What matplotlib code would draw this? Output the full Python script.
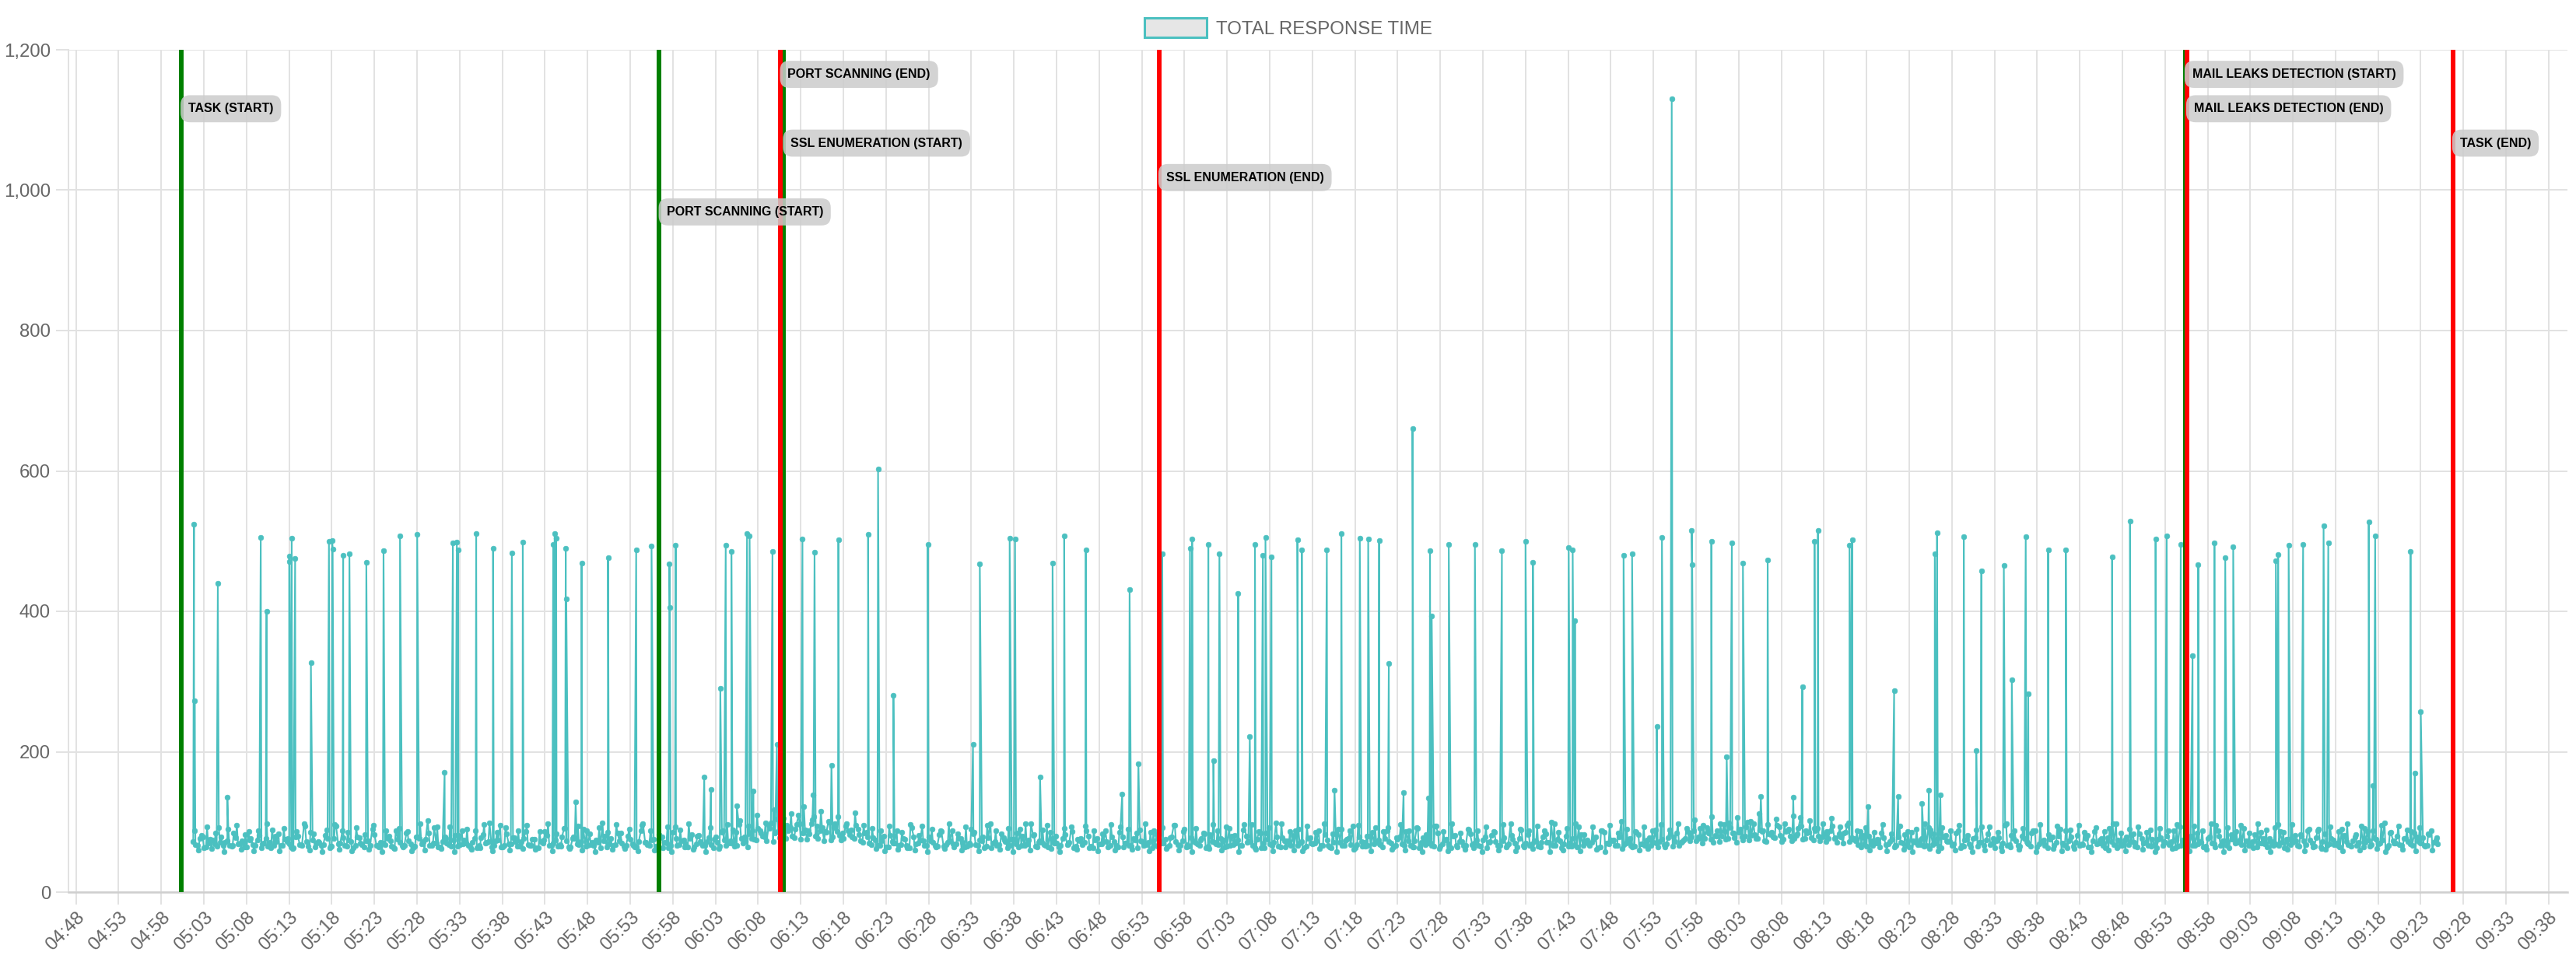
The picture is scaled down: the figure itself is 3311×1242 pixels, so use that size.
import matplotlib
matplotlib.use("Agg")
import matplotlib.pyplot as plt
import matplotlib.dates as mdates
from matplotlib.patches import Patch
from matplotlib.ticker import FuncFormatter
from datetime import datetime, timedelta
import numpy as np

# ---------------- data ----------------
SERIES_NAME = "TOTAL RESPONSE TIME"

# baseline samples, three interleaved runs (each every 30 s, offset from one another)
BASE_A_START = "05:01:45"
BASE_B_START = "05:02:00"
BASE_C_START = "05:01:52"
BASE_STEP_S = 30
baseline_a = [
    72, 66, 81, 64, 75, 69, 92, 67, 73, 65, 78, 70, 64, 86, 68, 74, 63, 77, 71, 66,
    83, 67, 72, 64, 79, 68, 97, 65, 74, 70, 66, 81, 63, 76, 69, 88, 65, 72, 67, 78,
    64, 73, 90, 66, 71, 68, 80, 63, 75, 67, 84, 69, 65, 77, 72, 102, 66, 70, 64, 79,
    68, 74, 65, 87, 70, 63, 76, 67, 82, 71, 64, 73, 95, 66, 69, 78, 65, 72, 86, 67,
    75, 63, 70, 81, 66, 74, 68, 91, 64, 77, 69, 72, 65, 83, 67, 71, 99, 64, 76, 68,
    73, 65, 80, 69, 64, 88, 71, 67, 75, 63, 79, 70, 66, 93, 68, 74, 64, 82, 69, 72,
    66, 78, 63, 71, 85, 67, 73, 65, 96, 70, 64, 77, 74, 88, 79, 95, 72, 104, 81, 76,
    92, 78, 110, 84, 75, 98, 80, 88, 73, 101, 79, 86, 74, 94, 82, 77, 90, 71, 85, 68,
    74, 66, 80, 64, 72, 87, 68, 75, 63, 79, 70, 94, 66, 73, 67, 82, 65, 71, 88, 69,
    76, 64, 70, 83, 67, 73, 65, 98, 72, 68, 78, 63, 75, 69, 90, 66, 74, 81, 64, 71,
    67, 85, 70, 64, 77, 68, 93, 65, 73, 71, 80, 63, 76, 69, 87, 66, 72, 64, 79, 70,
    65, 74, 89, 67, 71, 63, 82, 70, 75, 66, 95, 68, 73, 64, 78, 71, 67, 84, 65, 72,
    69, 77, 64, 91, 68, 74, 66, 80, 72, 63, 86, 70, 75, 67, 99, 64, 73, 69, 81, 66,
    72, 65, 78, 70, 88, 67, 74, 63, 83, 71, 66, 76, 94, 68, 72, 65, 80, 69, 74, 64,
    87, 70, 66, 79, 67, 73, 64, 92, 71, 68, 77, 65, 84, 69, 75, 63, 81, 72, 66, 90,
    68, 74, 65, 79, 71, 86, 67, 73, 64, 97, 70, 76, 66, 82, 69, 72, 64, 88, 71, 67,
    75, 63, 80, 70, 68, 93, 66, 74, 71, 79, 64, 85, 69, 73, 67, 101, 70, 76, 65, 82,
    69, 74, 66, 89, 72, 68, 78, 65, 84, 71, 76, 73, 88, 79, 70, 92, 75, 81, 72, 96,
    77, 84, 71, 90, 80, 74, 98, 76, 86, 72, 82, 78, 93, 75, 87, 73, 81, 106, 77, 85,
    74, 91, 79, 72, 88, 76, 83, 70, 95, 78, 73, 86, 69, 80, 66, 75, 84, 68, 72, 64,
    79, 70, 67, 85, 71, 74, 65, 92, 68, 77, 63, 81, 72, 69, 88, 66, 75, 64, 78, 71,
    66, 83, 70, 73, 64, 95, 68, 76, 67, 80, 72, 65, 87, 69, 74, 63, 79, 71, 90, 67,
    73, 65, 81, 69, 76, 64, 86, 70, 67, 78, 72, 98, 66, 74, 68, 83, 64, 77, 71, 89,
    68, 75, 66, 80, 72, 63, 93, 70, 76, 67, 84, 71, 65, 79, 69, 88, 73, 66, 82, 70,
    74, 91, 67, 72, 64, 85, 69, 77, 66, 96, 71, 75, 68, 81, 65, 73, 87, 70, 78, 64,
    83, 69, 74, 66, 90, 72, 67, 79, 71, 64, 86, 68, 75, 70, 99, 66, 73, 80, 67, 76,
    69, 84, 72, 78, 66, 88, 74,
]
baseline_b = [
    68, 77, 63, 70, 74, 65, 79, 71, 66, 84, 69, 73, 64, 76, 67, 81, 70, 65, 89, 72,
    66, 75, 69, 63, 80, 67, 72, 85, 64, 71, 68, 77, 65, 94, 70, 66, 74, 63, 79, 68,
    73, 67, 82, 64, 70, 76, 65, 88, 71, 66, 73, 63, 79, 69, 75, 67, 92, 64, 72, 70,
    65, 81, 68, 74, 66, 71, 63, 78, 70, 99, 67, 74, 64, 83, 69, 72, 65, 77, 68, 75,
    63, 72, 86, 67, 70, 65, 79, 73, 64, 76, 68, 90, 66, 71, 74, 63, 80, 69, 67, 84,
    70, 66, 75, 64, 72, 97, 68, 74, 65, 78, 71, 63, 85, 67, 73, 69, 76, 64, 81, 66,
    72, 68, 79, 65, 74, 70, 89, 66, 77, 72, 83, 75, 91, 80, 73, 99, 84, 78, 105, 87,
    80, 96, 75, 89, 83, 107, 77, 92, 85, 74, 98, 81, 76, 88, 79, 95, 73, 84, 70, 78,
    66, 73, 64, 81, 70, 67, 76, 63, 92, 69, 74, 66, 79, 71, 65, 86, 68, 73, 64, 77,
    71, 65, 90, 68, 74, 63, 78, 70, 66, 83, 72, 67, 75, 64, 80, 69, 97, 65, 73, 68,
    64, 77, 70, 66, 82, 71, 63, 75, 68, 88, 65, 74, 69, 72, 64, 79, 67, 93, 70, 66,
    76, 63, 72, 68, 85, 66, 74, 70, 64, 79, 72, 67, 90, 65, 73, 69, 77, 63, 82, 71,
    68, 74, 65, 80, 70, 66, 96, 72, 67, 75, 63, 84, 69, 71, 65, 78, 73, 66, 88, 70,
    63, 76, 69, 73, 66, 82, 64, 71, 90, 67, 75, 68, 63, 79, 71, 66, 85, 72, 68, 77,
    72, 64, 75, 69, 86, 66, 73, 63, 78, 70, 67, 94, 65, 74, 69, 80, 64, 72, 67, 83,
    70, 67, 74, 63, 81, 72, 66, 78, 69, 75, 64, 89, 70, 67, 73, 65, 79, 71, 100, 66,
    73, 69, 65, 77, 64, 82, 71, 67, 75, 63, 88, 70, 74, 66, 79, 68, 72, 64, 85, 69,
    66, 78, 71, 64, 75, 69, 83, 72, 67, 74, 86, 79, 73, 91, 77, 84, 71, 88, 80, 75,
    92, 78, 85, 74, 100, 81, 76, 89, 73, 83, 79, 95, 72, 86, 80, 77, 91, 75, 84, 78,
    88, 73, 82, 77, 94, 71, 79, 85, 72, 76, 68, 81, 65, 73, 70, 64, 78, 69, 75, 67,
    71, 82, 64, 73, 68, 76, 66, 89, 70, 65, 79, 72, 67, 84, 63, 74, 69, 77, 65, 93,
    74, 68, 63, 78, 70, 66, 81, 73, 65, 76, 69, 87, 64, 72, 68, 75, 66, 80, 70, 63,
    79, 71, 67, 85, 64, 73, 69, 76, 63, 91, 68, 74, 66, 79, 72, 65, 83, 70, 67, 75,
    63, 78, 71, 68, 87, 65, 74, 69, 80, 66, 72, 64, 76, 70, 95, 67, 73, 63, 79, 71,
    68, 73, 66, 82, 70, 77, 64, 72, 69, 86, 63, 75, 71, 67, 80, 68, 74, 65, 90, 72,
    66, 77, 70, 64, 81, 68, 73, 67, 94, 71, 65, 78, 69, 74, 63, 85, 70, 68, 76, 72,
    67, 79, 70, 65, 82, 71, 69,
]
baseline_c = [
    88, 60, 79, 93, 62, 84, 71, 58, 90, 66, 95, 61, 82, 74, 59, 87, 69, 97, 63, 80,
    59, 91, 76, 62, 86, 68, 94, 60, 83, 72, 58, 89, 65, 96, 61, 78, 85, 59, 92, 70,
    82, 61, 95, 67, 58, 88, 73, 62, 91, 64, 86, 59, 79, 97, 60, 84, 70, 93, 62, 76,
    93, 58, 81, 69, 90, 61, 87, 63, 96, 72, 59, 85, 64, 92, 60, 78, 88, 62, 95, 66,
    61, 86, 74, 97, 59, 83, 65, 91, 62, 79, 94, 60, 88, 68, 58, 92, 73, 85, 61, 96,
    84, 62, 90, 66, 59, 95, 71, 87, 60, 82, 63, 93, 58, 77, 89, 64, 98, 61, 80, 69,
    58, 92, 75, 62, 88, 96, 70, 85, 102, 79, 94, 88, 110, 84, 99, 91, 118, 86, 104, 95,
    112, 90, 97, 122, 88, 103, 94, 115, 86, 100, 92, 108, 84, 97, 89, 113, 82, 95, 79, 91,
    62, 87, 59, 94, 70, 61, 85, 67, 96, 60, 81, 73, 58, 90, 64, 88, 62, 98, 69, 83,
    60, 93, 68, 85, 59, 79, 95, 63, 87, 61, 74, 91, 58, 84, 66, 97, 60, 82, 71, 89,
    95, 62, 80, 58, 91, 69, 86, 61, 77, 94, 63, 88, 59, 83, 72, 96, 60, 85, 64, 90,
    61, 84, 73, 97, 59, 88, 65, 92, 62, 78, 95, 60, 86, 68, 58, 91, 74, 83, 62, 96,
    87, 60, 93, 66, 81, 58, 89, 71, 96, 61, 84, 63, 92, 59, 79, 98, 64, 86, 60, 90,
    59, 94, 70, 85, 62, 97, 67, 83, 58, 90, 73, 88, 61, 95, 65, 80, 59, 92, 69, 86,
    92, 61, 78, 96, 60, 87, 64, 91, 58, 82, 70, 94, 62, 86, 59, 97, 66, 84, 61, 89,
    63, 88, 58, 93, 72, 85, 60, 96, 67, 81, 59, 90, 64, 87, 62, 94, 71, 83, 58, 98,
    85, 60, 91, 65, 97, 59, 82, 69, 93, 61, 88, 58, 95, 74, 84, 62, 90, 66, 86, 60,
    93, 62, 87, 70, 96, 64, 89, 79, 98, 72, 91, 84, 103, 77, 95, 88, 108, 80, 97, 86,
    99, 84, 106, 79, 93, 101, 82, 112, 88, 96, 85, 104, 81, 98, 90, 109, 83, 94, 87, 102,
    91, 80, 97, 86, 105, 78, 93, 84, 99, 75, 88, 64, 92, 60, 85, 70, 96, 59, 83, 67,
    94, 61, 86, 58, 90, 68, 97, 62, 83, 59, 92, 73, 87, 60, 95, 65, 81, 58, 89, 71,
    60, 93, 76, 85, 59, 98, 64, 88, 61, 91, 70, 84, 58, 96, 66, 82, 62, 94, 59, 87,
    89, 62, 95, 68, 81, 58, 92, 74, 86, 60, 97, 63, 84, 59, 90, 71, 93, 61, 85, 65,
    58, 91, 72, 87, 62, 96, 66, 83, 59, 94, 69, 88, 61, 97, 64, 80, 58, 92, 75, 86,
    95, 60, 84, 63, 98, 70, 89, 58, 92, 67, 85, 61, 96, 73, 82, 59, 90, 64, 87, 62,
    61, 93, 68, 86, 59, 97, 65, 82, 60, 91, 74, 88, 62, 95, 58, 84, 70, 94, 61, 89,
    86, 59, 92, 67, 83, 60, 78,
]

spike_times = [
    "05:01:50", "05:01:55", "05:04:38", "05:05:45", "05:09:40", "05:10:21", "05:13:00", "05:13:03",
    "05:13:18", "05:13:42", "05:15:33", "05:17:40", "05:18:03", "05:18:06", "05:19:20", "05:20:04",
    "05:22:03", "05:24:04", "05:26:00", "05:28:01", "05:31:14", "05:32:12", "05:32:40", "05:32:48",
    "05:34:56", "05:36:55", "05:39:07", "05:40:24", "05:43:58", "05:44:08", "05:44:19", "05:45:26",
    "05:45:30", "05:46:36", "05:47:18", "05:50:24", "05:53:42", "05:55:30", "05:57:36", "05:57:39",
    "05:58:20", "06:01:41", "06:02:28", "06:03:34", "06:04:12", "06:04:52", "06:05:30", "06:06:42",
    "06:07:00", "06:07:26", "06:09:41", "06:10:12", "06:13:12", "06:14:27", "06:14:37", "06:16:36",
    "06:17:25", "06:20:54", "06:22:04", "06:23:52", "06:27:54", "06:33:12", "06:34:00", "06:37:30",
    "06:38:08", "06:41:04", "06:42:32", "06:43:54", "06:46:26", "06:50:42", "06:51:34", "06:52:36",
    "06:55:24", "06:58:39", "06:58:54", "07:00:48", "07:01:24", "07:02:06", "07:04:18", "07:05:40",
    "07:06:16", "07:07:12", "07:07:30", "07:08:12", "07:11:15", "07:11:46", "07:14:42", "07:15:36",
    "07:16:24", "07:18:34", "07:19:33", "07:20:50", "07:21:58", "07:23:42", "07:24:45", "07:26:36",
    "07:26:48", "07:27:00", "07:29:00", "07:32:04", "07:35:14", "07:38:00", "07:38:52", "07:43:04",
    "07:43:32", "07:43:48", "07:49:30", "07:50:30", "07:53:24", "07:54:00", "07:55:09", "07:57:30",
    "07:57:33", "07:59:48", "08:01:36", "08:02:12", "08:03:30", "08:05:36", "08:06:24", "08:09:24",
    "08:10:28", "08:11:54", "08:12:18", "08:16:00", "08:16:18", "08:18:12", "08:21:14", "08:21:42",
    "08:24:30", "08:25:18", "08:26:00", "08:26:16", "08:26:39", "08:29:24", "08:30:52", "08:31:28",
    "08:34:06", "08:35:02", "08:36:40", "08:36:58", "08:39:18", "08:41:22", "08:46:48", "08:48:54",
    "08:51:54", "08:53:12", "08:54:51", "08:56:14", "08:56:54", "08:58:48", "09:00:04", "09:01:00",
    "09:06:00", "09:06:16", "09:07:30", "09:09:12", "09:11:36", "09:12:09", "09:16:54", "09:17:24",
    "09:17:39", "09:21:48", "09:22:18", "09:23:00",
]
spike_values = [
    524, 273, 440, 135, 505, 400, 479, 471,
    504, 475, 327, 500, 501, 489, 480, 482,
    470, 486, 507, 510, 171, 497, 499, 488,
    511, 490, 483, 499, 495, 511, 504, 490,
    418, 128, 469, 477, 488, 493, 468, 406,
    494, 164, 146, 290, 494, 485, 123, 511,
    508, 144, 485, 210, 503, 138, 484, 181,
    502, 510, 603, 280, 495, 210, 468, 504,
    503, 164, 469, 507, 487, 140, 431, 183,
    482, 490, 503, 495, 187, 482, 426, 222,
    495, 480, 505, 478, 502, 487, 488, 145,
    511, 504, 503, 501, 326, 142, 660, 134,
    486, 393, 495, 495, 486, 500, 470, 491,
    488, 387, 480, 482, 236, 505, 1130, 515,
    467, 500, 193, 498, 469, 136, 473, 135,
    292, 500, 515, 494, 502, 122, 287, 136,
    126, 145, 482, 512, 138, 506, 202, 458,
    465, 303, 506, 282, 488, 487, 478, 529,
    503, 507, 495, 337, 467, 497, 477, 492,
    472, 481, 494, 495, 522, 497, 527, 152,
    507, 485, 169, 257,
]

event_names = [
    "TASK (START)", "PORT SCANNING (START)", "PORT SCANNING (END)", "SSL ENUMERATION (START)",
    "SSL ENUMERATION (END)", "MAIL LEAKS DETECTION (START)", "MAIL LEAKS DETECTION (END)", "TASK (END)",
]
event_times = [
    "05:00:21", "05:56:25", "06:10:39", "06:11:00",
    "06:55:02", "08:55:23", "08:55:34", "09:26:46",
]
event_kinds = ["start", "start", "end", "start", "end", "start", "end", "end"]

x_tick_labels = [
    "04:48", "04:53", "04:58", "05:03", "05:08", "05:13", "05:18", "05:23", "05:28", "05:33",
    "05:38", "05:43", "05:48", "05:53", "05:58", "06:03", "06:08", "06:13", "06:18", "06:23",
    "06:28", "06:33", "06:38", "06:43", "06:48", "06:53", "06:58", "07:03", "07:08", "07:13",
    "07:18", "07:23", "07:28", "07:33", "07:38", "07:43", "07:48", "07:53", "07:58", "08:03",
    "08:08", "08:13", "08:18", "08:23", "08:28", "08:33", "08:38", "08:43", "08:48", "08:53",
    "08:58", "09:03", "09:08", "09:13", "09:18", "09:23", "09:28", "09:33", "09:38",
]
y_ticks = [0, 200, 400, 600, 800, 1000, 1200]

# ---------------- layout / style ----------------
label_rows = [1116, 969, 1165, 1067, 1018, 1165, 1116, 1067]
X_MIN, X_MAX = "04:47:07", "09:40:12"
TEAL = "#4bc0c0"
GRID = "#e2e2e2"
TXT = "#666666"
KIND_COLOR = {"start": "#008000", "end": "#ff0000"}

plt.rcParams["font.family"] = ["Liberation Sans", "DejaVu Sans"]

DAY = datetime(2000, 1, 1)


def tdt(s):
    h, m, *sec = [int(p) for p in s.split(":")]
    return DAY + timedelta(hours=h, minutes=m, seconds=(sec[0] if sec else 0))


def tnum(s):
    return mdates.date2num(tdt(s))


def run_times(start, n):
    t0 = tdt(start)
    return [mdates.date2num(t0 + timedelta(seconds=BASE_STEP_S * i)) for i in range(n)]


all_t = np.array(run_times(BASE_A_START, len(baseline_a))
                 + run_times(BASE_B_START, len(baseline_b))
                 + run_times(BASE_C_START, len(baseline_c))
                 + [tnum(s) for s in spike_times])
all_v = np.array(baseline_a + baseline_b + baseline_c + spike_values, dtype=float)
order = np.argsort(all_t, kind="stable")
all_t, all_v = all_t[order], all_v[order]

W, H = 3312, 1242
fig = plt.figure(figsize=(W / 100, H / 100), dpi=100)
ax = fig.add_axes([88 / W, 1 - 1147 / H, (3300 - 88) / W, (1147 - 64) / H])

ax.plot(all_t, all_v, color=TEAL, lw=1.5, marker="o", ms=4.8, mfc=TEAL, mec=TEAL,
        mew=0.5, zorder=3)

ax.set_xlim(tnum(X_MIN), tnum(X_MAX))
ax.set_ylim(0, 1200)

ax.set_xticks([tnum(s) for s in x_tick_labels])
ax.set_xticklabels(x_tick_labels, rotation=45, ha="right", rotation_mode="anchor",
                   fontsize=17.3, color=TXT)
ax.set_yticks(y_ticks)
ax.yaxis.set_major_formatter(FuncFormatter(lambda v, p: f"{int(v):,}"))
ax.tick_params(axis="y", length=11.5, width=1.4, color=GRID, pad=5, labelsize=17.3,
               labelcolor=TXT)
ax.tick_params(axis="x", length=11.5, width=1.4, color=GRID, pad=4, labelsize=17.3,
               labelcolor=TXT)

ax.grid(True, color=GRID, lw=1.4, zorder=0)
ax.set_axisbelow(True)
for side in ["top", "right"]:
    ax.spines[side].set_visible(False)
ax.spines["left"].set_color(GRID)
ax.spines["left"].set_linewidth(1.4)
ax.spines["bottom"].set_color("#cfcfcf")
ax.spines["bottom"].set_linewidth(1.8)

# event lines: starts first, ends on top
for kind in ["start", "end"]:
    for t, k in zip(event_times, event_kinds):
        if k == kind:
            ax.axvline(tnum(t), color=KIND_COLOR[k], lw=4.3, zorder=4)

for name, t, row in zip(event_names, event_times, label_rows):
    ax.annotate(name, xy=(tnum(t), row), xytext=(6.5, 0), textcoords="offset points",
                ha="left", va="center", fontsize=11.5, fontweight="bold", color="black",
                zorder=6,
                bbox=dict(boxstyle="round,pad=0.62,rounding_size=0.75",
                          fc=(0.80, 0.80, 0.80, 0.85), ec="none"))

fig.legend(handles=[Patch(facecolor="#e6e6e6", edgecolor=TEAL, linewidth=2.2)],
           labels=[SERIES_NAME], loc="center", bbox_to_anchor=(0.5, 1 - 36 / H),
           frameon=False, fontsize=17.3, handlelength=80 / 24, handleheight=28 / 24,
           handletextpad=0.5, labelcolor=TXT)

fig.savefig("out.png", dpi=100)
